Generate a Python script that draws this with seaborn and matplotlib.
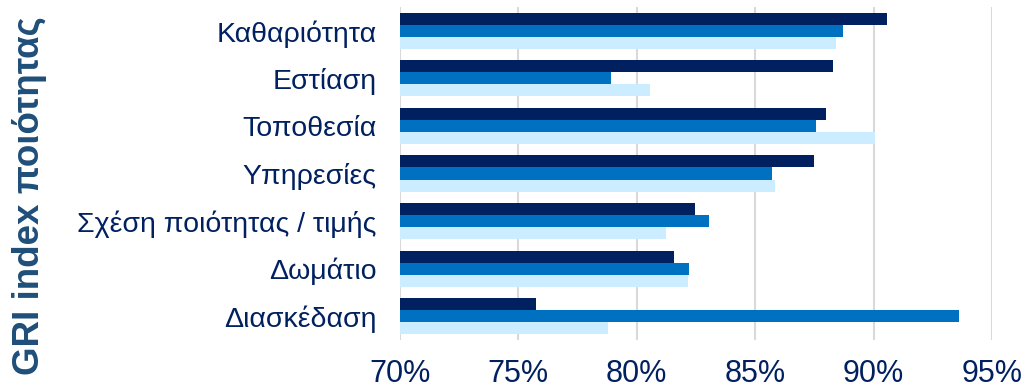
import pandas as pd
import matplotlib.pyplot as plt
import seaborn as sns
from matplotlib.ticker import PercentFormatter

# Categories (top to bottom) and the three series
categories = ["Καθαριότητα", "Εστίαση", "Τοποθεσία", "Υπηρεσίες",
              "Σχέση ποιότητας / τιμής", "Δωμάτιο", "Διασκέδαση"]
series_names = ["Σειρά 1", "Σειρά 2", "Σειρά 3"]
series_1 = [0.9055, 0.883, 0.880, 0.875, 0.8245, 0.8155, 0.7575]
series_2 = [0.887, 0.789, 0.8755, 0.857, 0.8305, 0.822, 0.936]
series_3 = [0.884, 0.8055, 0.9005, 0.8585, 0.8125, 0.8215, 0.788]
colors = ["#002060", "#0070C0", "#CCECFF"]

text_color = "#002060"

df = pd.DataFrame({
    "category": categories * 3,
    "series": [s for s in series_names for _ in categories],
    "value": series_1 + series_2 + series_3,
})

sns.set_style("white")
plt.rcParams['font.family'] = ['Liberation Sans', 'DejaVu Sans']

fig = plt.figure(figsize=(10.28, 3.91), dpi=100)
ax = fig.add_axes([400 / 1028, 1 - 340 / 391, 592 / 1028, 333 / 391])

sns.barplot(data=df, x="value", y="category", hue="series", orient="h",
            order=categories, hue_order=series_names, palette=colors,
            saturation=1, width=0.76, linewidth=0, legend=False, ax=ax)

ax.set_xlim(0.70, 0.95)
ax.set_ylim(6.5, -0.5)
ax.set_xticks([0.70, 0.75, 0.80, 0.85, 0.90, 0.95])
ax.xaxis.set_major_formatter(PercentFormatter(1.0, decimals=0))
ax.grid(axis="x", color="#D9D9D9", linewidth=1.5)
ax.set_axisbelow(True)
for s in ax.spines.values():
    s.set_visible(False)

ax.tick_params(axis="x", labelsize=22, colors=text_color, length=0, pad=14)
ax.tick_params(axis="y", labelsize=20.5, colors=text_color, length=0, pad=17)
ax.set_xlabel("")
ax.set_ylabel("")

fig.text(30 / 1028, 0.5, "GRI index ποιότητας", rotation=90, ha="center",
         va="center", fontsize=26.5, fontweight="bold", color="#1F4E79")

fig.savefig("out.png", dpi=100)
